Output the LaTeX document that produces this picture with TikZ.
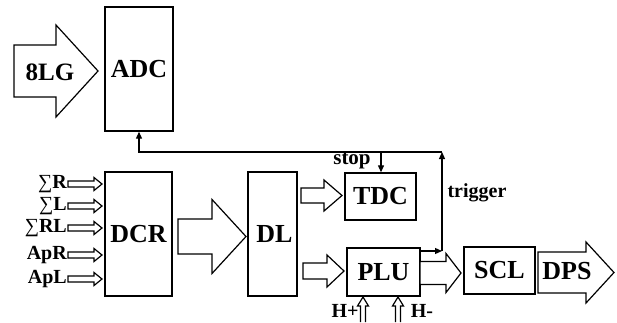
\documentclass[tikz,border=0pt]{standalone}
\usepackage{fontspec}
\setmainfont{Liberation Serif}
\usetikzlibrary{arrows.meta}
\newcommand\harrow[6]{% x0 x1 x2 yc shafthalf headhalf
  \draw[blkarrow] (#1,#4-#5) -- (#2,#4-#5) -- (#2,#4-#6) -- (#3,#4) -- (#2,#4+#6) -- (#2,#4+#5) -- (#1,#4+#5) -- cycle;}
\newcommand\varrow[6]{% xc y0 y1 y2 shafthalf headhalf (upward)
  \draw[blkarrow] (#1-#5,#2) -- (#1-#5,#3) -- (#1-#6,#3) -- (#1,#4) -- (#1+#6,#3) -- (#1+#5,#3) -- (#1+#5,#2);}
\newcommand\bigsum{{\fontsize{20}{20}\selectfont\mdseries ∑}}
\begin{document}
\begin{tikzpicture}[x=1pt,y=-1pt,
  box/.style={draw,line width=1.4pt,inner sep=0pt,font=\fontsize{26}{26}\selectfont\bfseries},
  blkarrow/.style={draw,line width=1.2pt,fill=white,line join=miter},
  lbl/.style={inner sep=0pt,font=\fontsize{26}{26}\selectfont\bfseries},
  small/.style={inner sep=0pt,font=\fontsize{20}{20}\selectfont\bfseries},
  conn/.style={line width=1.2pt,-{Triangle[length=7pt,width=6pt]}}]
\useasboundingbox (0,0) rectangle (617,322);
% boxes
\node[box,minimum width=68pt,minimum height=124pt] (ADC) at (139,69) {ADC};
\node[box,minimum width=67pt,minimum height=124pt] (DCR) at (138.5,234) {DCR};
\node[box,minimum width=49pt,minimum height=124pt] (DL) at (272.5,234) {\hspace*{4pt}DL};
\node[box,minimum width=71pt,minimum height=47pt] (TDC) at (380.5,196.5) {TDC};
\node[box,minimum width=73pt,minimum height=48pt] (PLU) at (383.5,272) {PLU};
\node[box,minimum width=71pt,minimum height=47pt] (SCL) at (499.5,270.5) {SCL};
% block arrows
\harrow{14}{56}{98}{71}{26}{46}
\node[lbl,font=\fontsize{25}{25}\selectfont\bfseries] (LG) at (50,72) {8LG};
\harrow{178}{212}{246}{236.5}{17.5}{37}
\harrow{301}{324}{342}{195.5}{7.5}{15.5}
\harrow{303}{327}{344}{271}{8}{16}
\harrow{420}{446}{461}{273}{11.5}{19.5}
\harrow{538}{586}{614}{272.5}{20.5}{30.5}
\node[lbl] (DPS) at (567,271) {DPS};
% input arrows
\foreach \yy/\tt/\nm in {184/\bigsum R/i1,206/\bigsum L/i2,228/\bigsum RL/i3,255/ApR/i4,279/ApL/i5}{
  \harrow{68}{94}{102}{\yy}{3}{6.5}
  \node[small,anchor=east] (\nm) at (67,\yy) {\tt};
}
% H+ H-
\varrow{363}{322}{306}{297}{2.5}{5.5}
\varrow{398}{322}{306}{297}{2.5}{5.5}
\node[small] (Hp) at (345,311) {H+};
\node[small] (Hm) at (422,311) {H-};
% feedback connectors
\coordinate (tr) at (442,251);
\coordinate (top) at (442,152);
\coordinate (topl) at (139,152);
\coordinate (st) at (381,152);
\draw[conn] (PLU.east |- tr) -- (tr);
\draw[conn] (tr) -- (top);
\draw[conn] (top) -- (topl) -- (ADC.south);
\draw[conn] (st) -- (st |- TDC.north);
\node[small,font=\fontsize{21}{21}\selectfont\bfseries] (stop) at (352,161) {stop};
\node[small] (trig) at (477,193) {trigger};
\end{tikzpicture}
\end{document}
